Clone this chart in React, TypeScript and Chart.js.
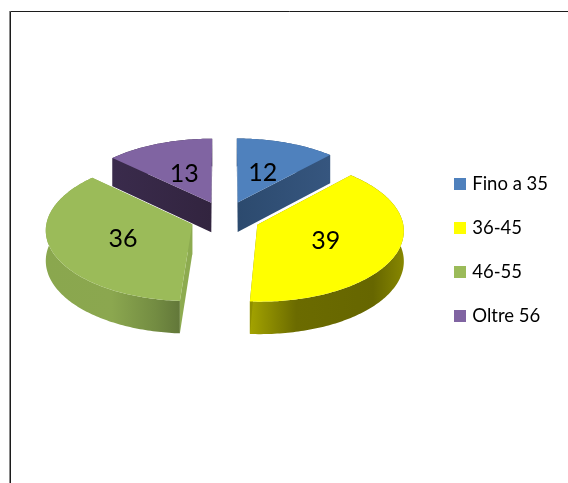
import React, { useEffect, useRef } from "react";
import { Chart, registerables } from "chart.js";

Chart.register(...registerables);

const categories = ["Fino a 35", "36-45", "46-55", "Oltre 56"];
const values = [12, 39, 36, 13];
const topColors = ["#4F81BD", "#FFFF00", "#9BBB59", "#8064A2"];
const cutColors = [
  ["#2c4a6e", "#36567f"],
  ["#8f8f00", "#8f8f00"],
  ["#8dab50", "#8dab50"],
  ["#3a2b4c", "#32243f"],
];
const wallStops = [
  [[0, "#2c4a6e"], [1, "#36567f"]],
  [[0, "#a3a300"], [0.3, "#6b6b00"], [0.8, "#666600"], [1, "#878700"]],
  [[0, "#8aa74e"], [0.45, "#8ba74f"], [0.75, "#738c42"], [1, "#5a6d35"]],
  [[0, "#3a2b4c"], [1, "#32243f"]],
];

const FONT = "Lato";
const TILT = 0.486; // vertical squash of the disc
const PERSPECTIVE = 0.07; // front of the disc is nearer
const DEPTH = 30; // extrusion height
const STEP = Math.PI / 180;
const LEGEND_PADDING = 25.5;

function project(el: any, u: number, v: number, z = 0): [number, number] {
  const s = 1 / (1 - PERSPECTIVE * v);
  return [el.x + el.outerRadius * u * s, el.y + el.outerRadius * TILT * v * s + z * DEPTH * s];
}

function sliceGeom(el: any) {
  const mid = (el.startAngle + el.endAngle) / 2;
  const e = (el.options.offset || 0) / 4 / el.outerRadius;
  return { mid, ox: Math.cos(mid) * e, oy: Math.sin(mid) * e };
}

function arcPoints(el: any, z: number) {
  const { ox, oy } = sliceGeom(el);
  const pts: [number, number][] = [];
  const n = Math.max(2, Math.ceil((el.endAngle - el.startAngle) / STEP));
  for (let i = 0; i <= n; i++) {
    const a = el.startAngle + ((el.endAngle - el.startAngle) * i) / n;
    pts.push(project(el, ox + Math.cos(a), oy + Math.sin(a), z));
  }
  return pts;
}

function fillPoly(ctx: CanvasRenderingContext2D, pts: [number, number][], fill: any) {
  ctx.beginPath();
  pts.forEach((p, i) => (i ? ctx.lineTo(p[0], p[1]) : ctx.moveTo(p[0], p[1])));
  ctx.closePath();
  ctx.fillStyle = fill;
  ctx.fill();
}

function hGrad(ctx: CanvasRenderingContext2D, x0: number, x1: number, stops: any[]) {
  const g = ctx.createLinearGradient(x0, 0, x1, 0);
  stops.forEach(([o, c]) => g.addColorStop(o, c));
  return g;
}

const pie3d = {
  id: "pie3d",
  afterLayout(chart: any) {
    const lg = chart.legend;
    const dx = 457 - LEGEND_PADDING - lg.left;
    lg.left += dx;
    lg.right += dx;
    lg.top += 32;
    lg.bottom += 32;
  },
  beforeDraw(chart: any) {
    const ctx = chart.ctx;
    ctx.save();
    ctx.fillStyle = "#ffffff";
    ctx.fillRect(0, 0, chart.width, chart.height);
    ctx.strokeStyle = "#8a8a8a";
    ctx.lineWidth = 1;
    ctx.beginPath();
    ctx.moveTo(9.5, 11);
    ctx.lineTo(9.5, chart.height);
    ctx.stroke();
    ctx.strokeStyle = "#1c1c1c";
    ctx.beginPath();
    ctx.moveTo(10.5, chart.height);
    ctx.lineTo(10.5, 11.5);
    ctx.lineTo(chart.width, 11.5);
    ctx.stroke();
    ctx.restore();
  },
  beforeDatasetDraw(chart: any, args: any) {
    const ctx = chart.ctx;
    const arcs: any[] = chart.getDatasetMeta(args.index).data;
    const order = arcs
      .map((el, i) => ({ el, i }))
      .sort((a, b) => Math.sin(sliceGeom(a.el).mid) - Math.sin(sliceGeom(b.el).mid));
    ctx.save();
    order.forEach(({ el, i }) => {
      const { ox, oy } = sliceGeom(el);
      const top = arcPoints(el, 0);
      const bot = arcPoints(el, 1);
      const apex = project(el, ox, oy, 0);
      const apexB = project(el, ox, oy, 1);
      const xs = top.concat([apex]).map((p) => p[0]);
      const x0 = Math.min(...xs);
      const x1 = Math.max(...xs);
      // outer wall
      fillPoly(ctx, top.concat(bot.slice().reverse()), hGrad(ctx, x0, x1, wallStops[i]));
      // radial cut faces
      const cut = hGrad(ctx, x0, x1, [[0, cutColors[i][0]], [1, cutColors[i][1]]]);
      fillPoly(ctx, [apex, top[0], bot[0], apexB], cut);
      fillPoly(ctx, [apex, top[top.length - 1], bot[bot.length - 1], apexB], cut);
      // top face
      fillPoly(ctx, [apex, ...top], el.options.backgroundColor);
    });
    // value labels
    ctx.fillStyle = "#000000";
    ctx.font = `25px ${FONT}`;
    ctx.textAlign = "center";
    ctx.textBaseline = "middle";
    arcs.forEach((el, i) => {
      const { ox, oy, mid } = sliceGeom(el);
      const p = project(el, ox + Math.cos(mid) * 0.5, oy + Math.sin(mid) * 0.5);
      ctx.fillText(String(values[i]), p[0], p[1] + 1.5);
    });
    ctx.restore();
    return false;
  },
};

export default function App() {
  const ref = useRef<HTMLCanvasElement>(null);
  useEffect(() => {
    document.body.style.margin = "0";
    const chart = new Chart(ref.current as HTMLCanvasElement, {
      type: "pie",
      data: {
        labels: categories,
        datasets: [
          {
            data: values,
            backgroundColor: topColors,
            borderWidth: 0,
            offset: 140,
            radius: 145,
          } as any,
        ],
      },
      plugins: [pie3d],
      options: {
        animation: false,
        responsive: false,
        layout: { padding: { left: 43.5, top: 37, bottom: 84, right: 35 } },
        plugins: {
          tooltip: { enabled: false },
          title: { display: false },
          legend: {
            position: "right",
            labels: {
              usePointStyle: true,
              pointStyle: "rect",
              boxWidth: 6,
              boxHeight: 12,
              padding: LEGEND_PADDING,
              color: "#000000",
              font: { family: FONT, size: 18.5 },
            },
          },
        },
      } as any,
    });
    return () => chart.destroy();
  }, []);
  return <canvas ref={ref} width={568} height={483} style={{ display: "block" }} />;
}
